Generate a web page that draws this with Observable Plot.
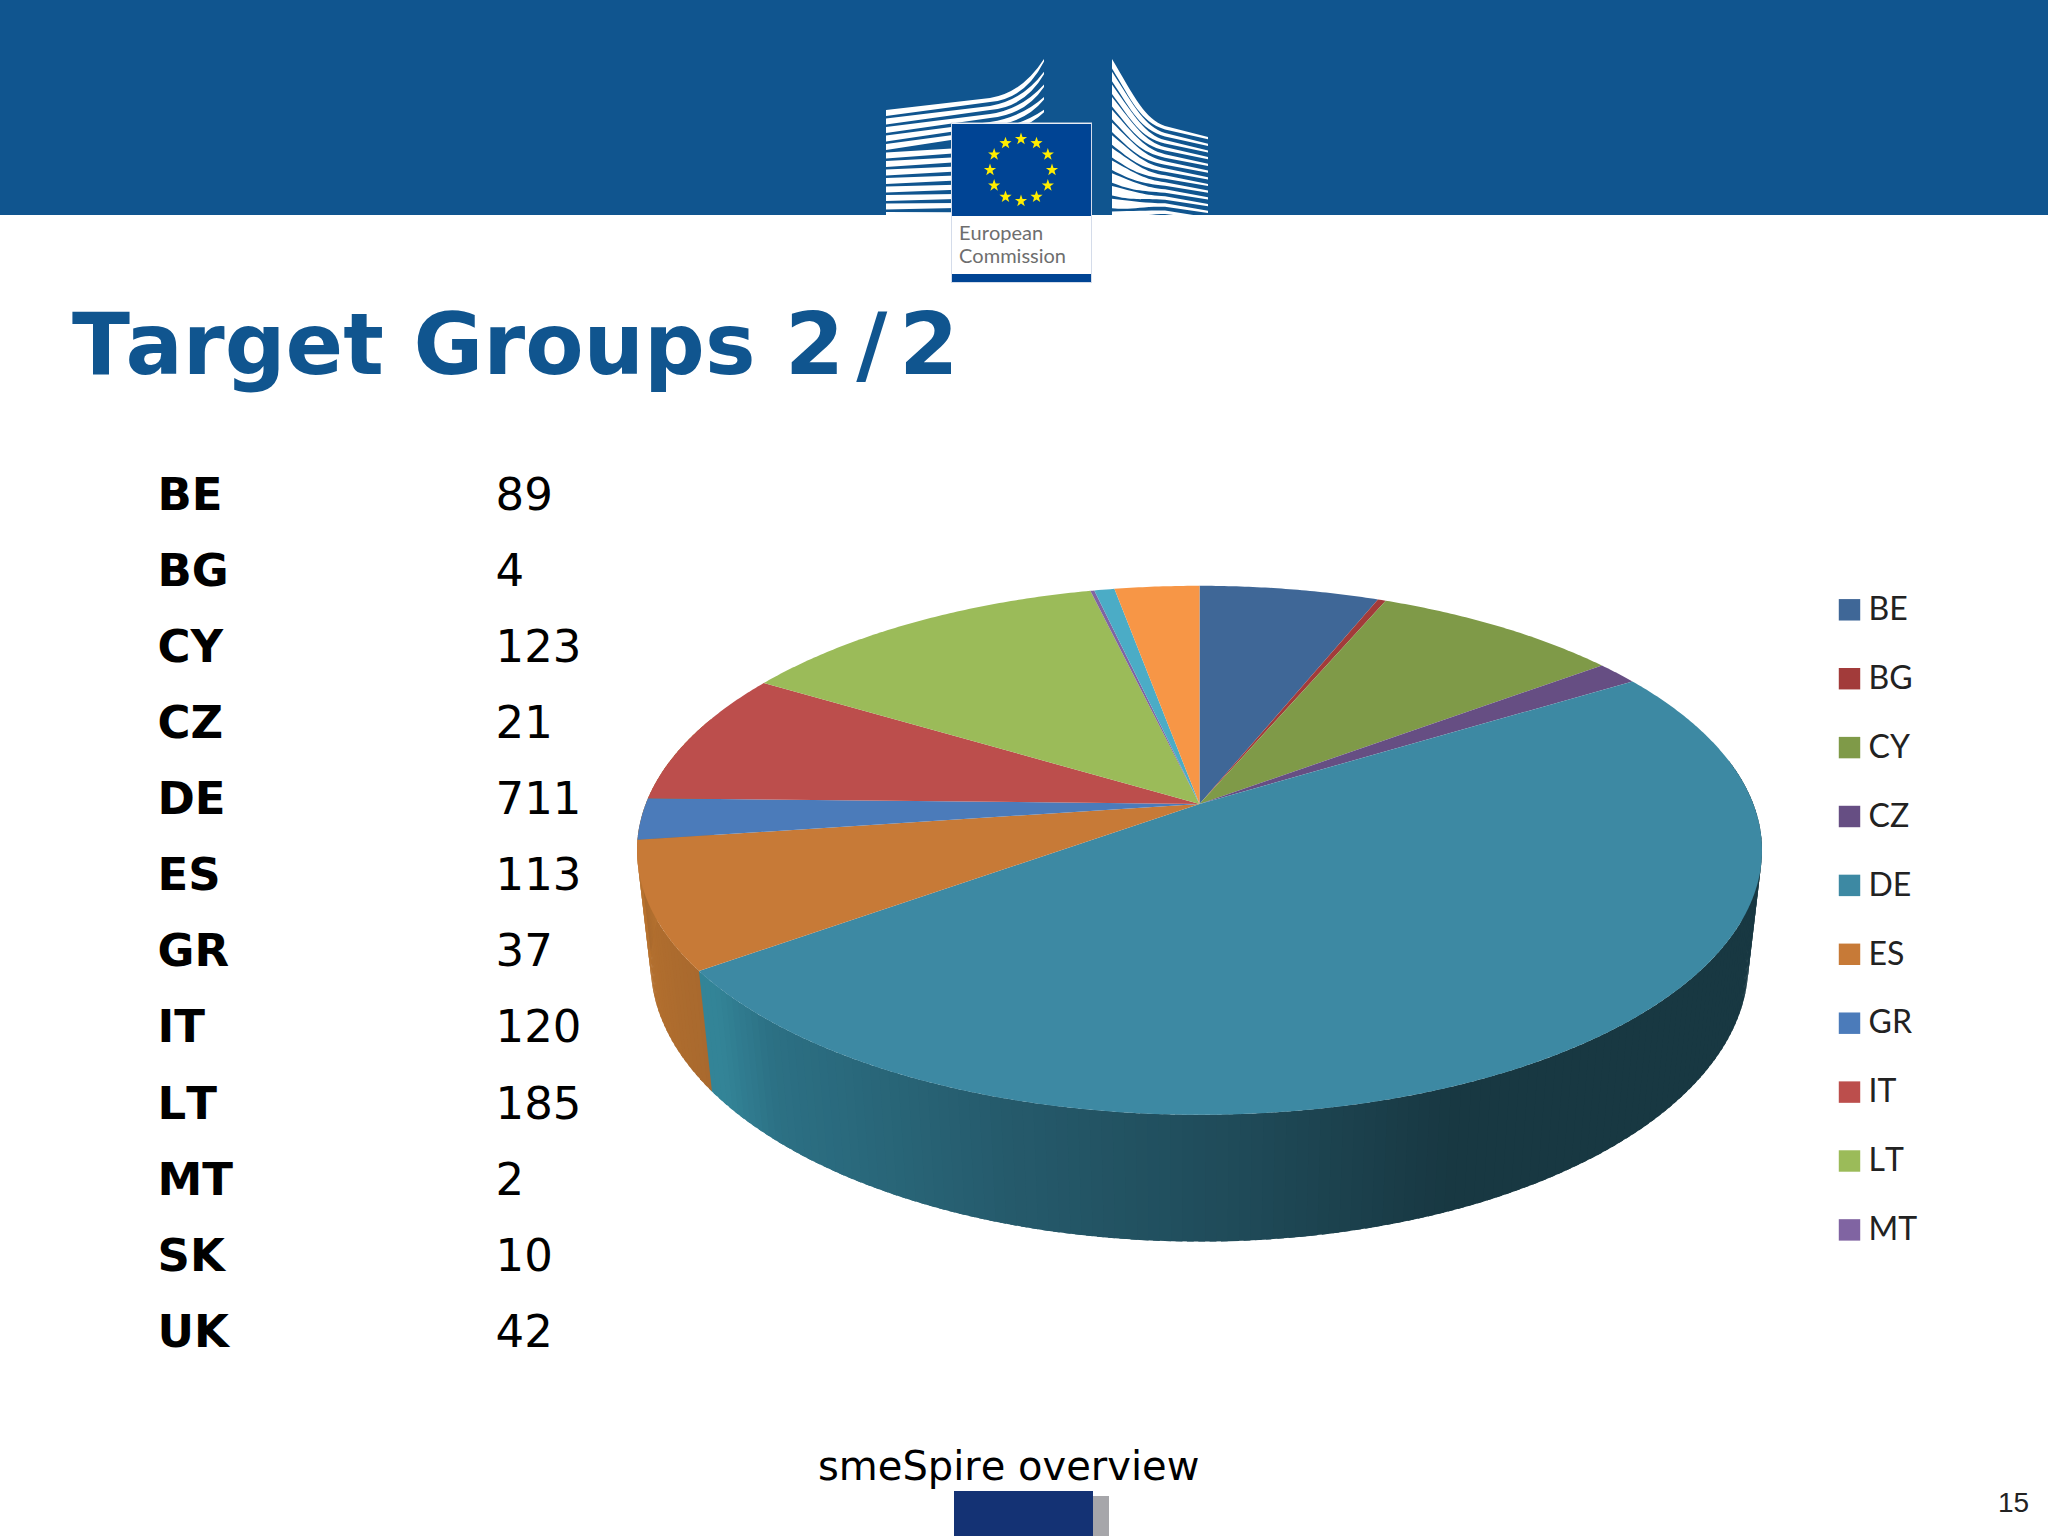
<!DOCTYPE html>
<html>
<head>
<meta charset="utf-8">
<title>Target Groups 2/2</title>
<script src="https://cdn.jsdelivr.net/npm/d3@7"></script>
<script src="https://cdn.jsdelivr.net/npm/@observablehq/plot@0.6"></script>
<style>
  html, body { margin: 0; padding: 0; background: #fff; }
  #page { position: relative; width: 2048px; height: 1536px; overflow: hidden; background: #fff; }
  #page > * { position: absolute; }
  .abs { position: absolute; white-space: nowrap; line-height: 1; font-kerning: none !important; }
  #page svg { display: block; background: transparent; }
  #page svg text { font-kerning: none; }
</style>
</head>
<body>
<div id="page">
  <div style="left:0;top:0;width:2048px;height:215px;background:#10558f"></div>
  <svg id="logo" width="2048" height="300" style="left:0;top:0"></svg>
  <div class="abs" style="left:72px;top:302px;font:bold 85px/1 'DejaVu Sans';color:#10558f"><span style="letter-spacing:-4.5px">T</span>arget Groups <span style="letter-spacing:12px">2/2</span></div>
  <div id="tableBox" style="left:0;top:440px"></div>
  <div id="pieBox" style="left:620px;top:540px"></div>
  <div id="legendBox" style="left:1800px;top:570px"></div>
  <div class="abs" style="left:818px;top:1446px;font:40px/1 'DejaVu Sans';color:#000">smeSpire overview</div>
  <div style="left:954px;top:1496px;width:155px;height:40px;background:#a6a6aa"></div>
  <div style="left:954px;top:1491px;width:139px;height:45px;background:#143274"></div>
  <div class="abs" style="left:1998px;top:1489px;font:28px/1 'Liberation Sans';color:#222">15</div>
</div>
<script>
// ---- chart data ----
const countries = ["BE","BG","CY","CZ","DE","ES","GR","IT","LT","MT","SK","UK"];
const counts    = [89,4,123,21,711,113,37,120,185,2,10,42];
const sliceColors = ["#3f6797","#a23b3a","#7f9a48","#664e83","#3d89a3","#c77a37",
                     "#4b7bba","#bc4e4c","#9bbb59","#8064a2","#4bacc6","#f79646"];
const legendCountries = ["BE","BG","CY","CZ","DE","ES","GR","IT","LT","MT"];

// ---- 3D pie view parameters ----
const perspective = 0.175, wallDepth = 0.449, wallShrink = 0.024;
const wallShadeX = [-0.88,-0.78,-0.35,0.08,0.45,1.05];
const wallShadeC = ["#338497","#2c7084","#255a6b","#1f4a58","#183842","#183842"];
const esWallColor = ["#a9692e","#b8732f"];

const project = (deg, drop) => {
  const t = deg * Math.PI / 180, u = Math.sin(t), v = Math.cos(t);
  const w = 1 + perspective * v + wallShrink * drop;
  return {x: u / w, y: (v - wallDepth * drop) / w};
};

const total = d3.sum(counts);
const cum = d3.cumsum(counts);
const ends = countries.map((c, i) => ({key: c, a0: (i ? cum[i - 1] : 0) / total * 360, a1: cum[i] / total * 360}));

const slices = ends.flatMap(s => {
  const pts = [{key: s.key, x: 0, y: 0}];
  const n = Math.max(2, Math.ceil((s.a1 - s.a0) * 2));
  for (let j = 0; j <= n; j++) pts.push({key: s.key, ...project(s.a0 + (s.a1 - s.a0) * j / n, 0)});
  return pts;
});

const shade = d3.scaleLinear().domain(wallShadeX).range(wallShadeC).clamp(true);
const wall = [];
ends.forEach(s => {
  const lo = Math.max(s.a0, 80), hi = Math.min(s.a1, 290);
  if (hi <= lo) return;
  const n = Math.ceil(hi - lo);
  for (let j = 0; j < n; j++) {
    const a = lo + (hi - lo) * j / n, b = lo + (hi - lo) * (j + 1) / n + 0.6;
    const mid = project((a + b) / 2, 0);
    const color = s.key === "DE" ? shade(mid.x) : d3.interpolateRgb(esWallColor[0], esWallColor[1])((j + .5) / n);
    const seg = s.key + j;
    [project(a, 0), project(b, 0), project(b, 1), project(a, 1)].forEach(p => wall.push({seg, color, ...p}));
  }
});

// ---- pie ----
document.getElementById("pieBox").append(Plot.plot({
  width: 1200, height: 800, margin: 0,
  x: {domain: [-1, 1], range: [25.2, 1132.8], axis: null},
  y: {domain: [-1, 1], range: [519.9, 7.1], axis: null},
  color: {domain: countries, range: sliceColors},
  marks: [
    Plot.line(wall, {x: "x", y: "y", z: "seg", fill: {value: "color", scale: null}, stroke: "none"}),
    Plot.line(slices, {x: "x", y: "y", z: "key", fill: "key", stroke: "none"})
  ]
}));

// ---- value table ----
const rows = countries.map((c, i) => ({c, v: counts[i]}));
document.getElementById("tableBox").append(Plot.plot({
  width: 640, height: 960, margin: 0,
  x: {type: "point", domain: ["name", "value"], range: [157, 495], padding: 0, round: false, axis: null},
  y: {type: "point", domain: countries, range: [54.8, 891.9], padding: 0, round: false, axis: null},
  marks: [
    Plot.text(rows, {x: () => "name", y: "c", text: "c", textAnchor: "start", fontFamily: "DejaVu Sans", fontWeight: "bold", fontSize: 45, fill: "#000"}),
    Plot.text(rows, {x: () => "value", y: "c", text: d => String(d.v), textAnchor: "start", fontFamily: "DejaVu Sans", fontSize: 45, fill: "#000"})
  ]
}));

// ---- legend ----
document.getElementById("legendBox").append(Plot.plot({
  width: 248, height: 700, margin: 0,
  x: {type: "point", domain: ["swatch", "label"], range: [49, 68], padding: 0, round: false, axis: null},
  y: {type: "point", domain: legendCountries, range: [39.3, 659.4], padding: 0, round: false, axis: null},
  color: {domain: countries, range: sliceColors},
  marks: [
    Plot.dot(legendCountries, {x: () => "swatch", y: d => d, fill: d => d, symbol: "square", r: 12.1}),
    Plot.text(legendCountries, {x: () => "label", y: d => d, text: d => d, textAnchor: "start", fontFamily: "Lato", fontSize: 32, fill: "#222"})
  ]
}));

// ---- logo (decoration) ----
const logo = d3.select("#logo");
logo.append("defs").append("clipPath").attr("id", "hdr").append("rect").attr("width", 2048).attr("height", 215);
const bld = logo.append("g").attr("clip-path", "url(#hdr)").append("g").attr("transform", "translate(850,0)").attr("fill", "#fff");
for (let i = 0; i < 13; i++) {
  const yL = 110 + i * 8.5;
  if (i < 5) {
    const yM = 98 + i * 8, yR = 59 + i * 12.7;
    bld.append("path").attr("d", `M36,${yL}L140,${yM}Q172,${yM - 5} 194,${yR}L194,${yR + 2.5}Q175,${yM + 1} 140,${yM + 4}L36,${yL + 6}Z`);
  } else {
    const s = 0.11 - 0.0095 * i, y2 = yL - 70 * s;
    bld.append("path").attr("d", `M36,${yL}L106,${y2}L106,${y2 + 5}L36,${yL + 6}Z`);
  }
  const yl = 59 + i * 12.7, yr = 137 + i * 6.7, yk = 124 + i * 7.2, f = 1 - i / 12;
  bld.append("path").attr("d",
    `M262,${yl}C285,${yl + (yk - yl) * .6} 295,${yk - 5 * f} 315,${yk + .1 * f * 20}L358,${yr}L358,${yr + 2.2}L315,${yk + 3.5 + 2 * f}C290,${yk + 3.5 - 6 * f} 282,${yl + 9.5 + (yk - yl) * .5} 262,${yl + 9.5}Z`);
}
const card = logo.append("g");
card.append("rect").attr("x", 951.5).attr("y", 123).attr("width", 140).attr("height", 159.5).attr("fill", "#fff").attr("stroke", "#d4dcea");
card.append("rect").attr("x", 952).attr("y", 124).attr("width", 139).attr("height", 92).attr("fill", "#004494");
card.append("rect").attr("x", 952).attr("y", 274).attr("width", 139).attr("height", 8).attr("fill", "#004494");
const star = (cx, cy, r) => d3.range(10).map(i => {
  const a = i * Math.PI / 5 - Math.PI / 2, q = i % 2 ? r * .4 : r;
  return (i ? "L" : "M") + (cx + q * Math.cos(a)).toFixed(2) + "," + (cy + q * Math.sin(a)).toFixed(2);
}).join("") + "Z";
d3.range(12).forEach(i => {
  const a = i * Math.PI / 6;
  card.append("path").attr("d", star(1021 + 31 * Math.sin(a), 170 - 31 * Math.cos(a), 6.4)).attr("fill", "#ffed00");
});
[["European", 240], ["Commission", 263]].forEach(([t, y]) => {
  card.append("text").attr("x", 959).attr("y", y).attr("font-family", "Lato").attr("font-size", 20).attr("fill", "#6e6e6e").text(t);
});
</script>
</body>
</html>
